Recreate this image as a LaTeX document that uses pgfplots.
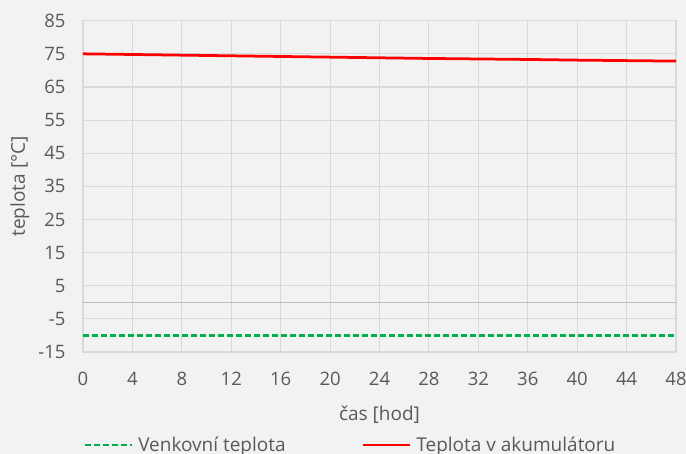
\documentclass[border=0pt]{standalone}
\usepackage{fontspec}
\setmainfont{Open Sans}
\usepackage{pgfplots}
\pgfplotsset{compat=1.18}
\definecolor{bgc}{HTML}{F2F2F2}
\definecolor{gridc}{HTML}{D9D9D9}
\definecolor{zeroc}{HTML}{BFBFBF}
\definecolor{txt}{HTML}{595959}
\definecolor{grn}{HTML}{00B050}
\begin{document}
\begin{tikzpicture}[x=1pt,y=1pt]
\fill[bgc] (0,0) rectangle (686,454);
\begin{axis}[
  at={(83pt,102pt)}, anchor=south west,
  scale only axis, width=593pt, height=331.3pt,
  xmin=0, xmax=48, ymin=-15, ymax=85,
  xtick={0,4,...,48}, ytick={-15,-5,...,85},
  grid=major, grid style={gridc, line width=1.1pt},
  axis line style={gridc, line width=1.1pt},
  major tick length=0pt,
  /pgf/number format/assume math mode=true,
  tick label style={font=\fontsize{18.5}{20}\selectfont, text=txt},
  xticklabel style={yshift=-17pt},
  yticklabel style={xshift=-14pt},
  extra y ticks={0}, extra y tick labels={},
  extra y tick style={grid style={zeroc, line width=1.5pt}},
  xlabel={čas [hod]}, ylabel={teplota [°C]},
  label style={font=\fontsize{19}{21}\selectfont, text=txt},
  xlabel style={at={(axis description cs:0.5,-0.19)}, anchor=center},
  ylabel style={at={(axis description cs:-0.1062,0.5)}, anchor=center},
  legend columns=2,
  legend style={at={(axis description cs:0.0017,-0.2807)}, anchor=west,
    draw=none, fill=none, inner sep=0pt, outer sep=0pt,
    font=\fontsize{19}{21}\selectfont, text=txt,
    nodes={inner sep=0pt},
    column sep=5pt,
    /tikz/every even column/.append style={column sep=76pt}},
  legend image code/.code={\draw[#1] (0pt,0pt) -- (47pt,0pt);},
  clip=false,
]
\addplot[grn, line width=2.25pt, dash pattern=on 6pt off 3pt] coordinates {
(0,-10) (4,-10) (8,-10) (12,-10) (16,-10) (20,-10) (24,-10) (28,-10) (32,-10) (36,-10) (40,-10) (44,-10) (48,-10)};
\addlegendentry{Venkovní teplota}
\addplot[red, line width=2.75pt] coordinates {
(0,75.0) (4,74.8) (8,74.6) (12,74.4) (16,74.2) (20,74.0) (24,73.8) (28,73.6) (32,73.45) (36,73.3) (40,73.1) (44,72.95) (48,72.8)};
\addlegendentry{Teplota v akumulátoru}
\end{axis}
\pgfresetboundingbox
\path (0,0) rectangle (686,454);
\end{tikzpicture}
\end{document}
